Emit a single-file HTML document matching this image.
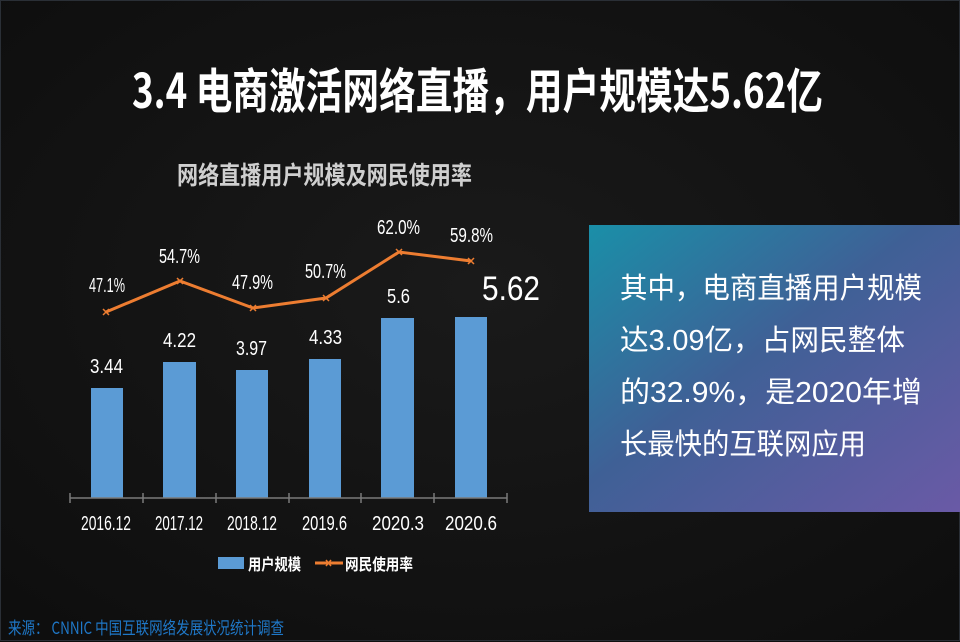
<!DOCTYPE html>
<html><head><meta charset="utf-8"><style>
body{margin:0;background:#111;}
svg{display:block}
</style></head><body>
<svg width="960" height="642" viewBox="0 0 960 642" xmlns="http://www.w3.org/2000/svg" font-family="Liberation Sans, Noto Sans CJK SC, sans-serif">
<defs>
<radialGradient id="bg" cx="50%" cy="45%" r="70%"><stop offset="0" stop-color="#1a1a1a"/><stop offset="1" stop-color="#0e0e0e"/></radialGradient>
<linearGradient id="box" x1="0" y1="0" x2="1" y2="1"><stop offset="0" stop-color="#1a8fa8"/><stop offset="0.45" stop-color="#3f6096"/><stop offset="1" stop-color="#6a5aa6"/></linearGradient>
</defs>
<rect width="960" height="642" fill="url(#bg)"/>
<rect x="0.5" y="0.5" width="959" height="640" fill="none" stroke="#2a2f36" stroke-width="1"/>
<text x="132" y="108" fill="#fff" font-size="48" font-weight="bold" textLength="691" lengthAdjust="spacingAndGlyphs" font-family="Noto Sans CJK SC, sans-serif">3.4 电商激活网络直播，用户规模达5.62亿</text>
<text x="177" y="184" fill="#cfcfcf" font-size="25" font-weight="bold" textLength="295" lengthAdjust="spacingAndGlyphs" font-family="Noto Sans CJK SC, sans-serif">网络直播用户规模及网民使用率</text>
<g fill="#5b9bd5">
<rect x="91" y="388" width="32" height="110"/>
<rect x="163" y="362" width="33" height="136"/>
<rect x="236" y="370" width="32" height="128"/>
<rect x="309" y="359" width="32" height="139"/>
<rect x="381" y="318" width="33" height="180"/>
<rect x="455" y="317" width="32" height="181"/>
</g>
<g stroke="#7a7a7a" stroke-width="1.5">
<line x1="70" y1="498" x2="507" y2="498"/>
<line x1="70" y1="493" x2="70" y2="503"/><line x1="143" y1="493" x2="143" y2="503"/><line x1="216" y1="493" x2="216" y2="503"/><line x1="289" y1="493" x2="289" y2="503"/><line x1="361" y1="493" x2="361" y2="503"/><line x1="434" y1="493" x2="434" y2="503"/><line x1="507" y1="493" x2="507" y2="503"/>
</g>
<polyline points="106,312 180,281 253,308 326,298 399,252 471,261" fill="none" stroke="#ed7d31" stroke-width="3"/>
<g stroke="#ed7d31" stroke-width="1.5">
<path d="M103,309l6,6M109,309l-6,6M177,278l6,6M183,278l-6,6M250,305l6,6M256,305l-6,6M323,295l6,6M329,295l-6,6M396,249l6,6M402,249l-6,6M468,258l6,6M474,258l-6,6"/>
</g>
<g fill="#fff" font-size="20" lengthAdjust="spacingAndGlyphs">
<text x="89" y="292" textLength="36" lengthAdjust="spacingAndGlyphs">47.1%</text>
<text x="159" y="263" textLength="41" lengthAdjust="spacingAndGlyphs">54.7%</text>
<text x="232" y="289" textLength="41" lengthAdjust="spacingAndGlyphs">47.9%</text>
<text x="305" y="278" textLength="41" lengthAdjust="spacingAndGlyphs">50.7%</text>
<text x="377" y="234" textLength="43" lengthAdjust="spacingAndGlyphs">62.0%</text>
<text x="450" y="242" textLength="43" lengthAdjust="spacingAndGlyphs">59.8%</text>
<text x="90" y="373" textLength="33" lengthAdjust="spacingAndGlyphs">3.44</text>
<text x="163" y="347" textLength="33" lengthAdjust="spacingAndGlyphs">4.22</text>
<text x="236" y="355" textLength="31" lengthAdjust="spacingAndGlyphs">3.97</text>
<text x="309" y="344" textLength="33" lengthAdjust="spacingAndGlyphs">4.33</text>
<text x="387" y="303" textLength="23" lengthAdjust="spacingAndGlyphs">5.6</text>
<text x="482" y="300" font-size="34" textLength="58" lengthAdjust="spacingAndGlyphs">5.62</text>
<text x="81" y="530" textLength="50" lengthAdjust="spacingAndGlyphs">2016.12</text>
<text x="155" y="530" textLength="48" lengthAdjust="spacingAndGlyphs">2017.12</text>
<text x="227" y="530" textLength="50" lengthAdjust="spacingAndGlyphs">2018.12</text>
<text x="302" y="530" textLength="45" lengthAdjust="spacingAndGlyphs">2019.6</text>
<text x="372" y="530" textLength="52" lengthAdjust="spacingAndGlyphs">2020.3</text>
<text x="445" y="530" textLength="52" lengthAdjust="spacingAndGlyphs">2020.6</text>
</g>
<rect x="218" y="557" width="26" height="12" fill="#5b9bd5"/>
<text x="248" y="570" fill="#fff" font-size="16" font-weight="bold" textLength="53" lengthAdjust="spacingAndGlyphs" font-family="Noto Sans CJK SC, sans-serif">用户规模</text>
<line x1="315" y1="563" x2="343" y2="563" stroke="#ed7d31" stroke-width="3"/>
<path d="M326,560l5,6M331,560l-5,6" stroke="#ed7d31" stroke-width="1.5"/>
<text x="345" y="570" fill="#fff" font-size="16" font-weight="bold" textLength="68" lengthAdjust="spacingAndGlyphs" font-family="Noto Sans CJK SC, sans-serif">网民使用率</text>
<rect x="589" y="225" width="371" height="287" fill="url(#box)"/>
<g fill="#fff" font-size="29" font-family="Liberation Sans, Noto Sans CJK SC, sans-serif">
<text x="620" y="298" textLength="302" lengthAdjust="spacingAndGlyphs">其中，电商直播用户规模</text>
<text x="620" y="350" textLength="285" lengthAdjust="spacingAndGlyphs">达3.09亿，占网民整体</text>
<text x="620" y="402" textLength="302" lengthAdjust="spacingAndGlyphs">的32.9%，是2020年增</text>
<text x="620" y="454" textLength="246" lengthAdjust="spacingAndGlyphs">长最快的互联网应用</text>
</g>
<text x="8" y="634" fill="#1f78c8" font-size="17" textLength="276" lengthAdjust="spacingAndGlyphs" font-family="Noto Sans CJK SC, sans-serif">来源：  CNNIC 中国互联网络发展状况统计调查</text>
</svg>
</body></html>
